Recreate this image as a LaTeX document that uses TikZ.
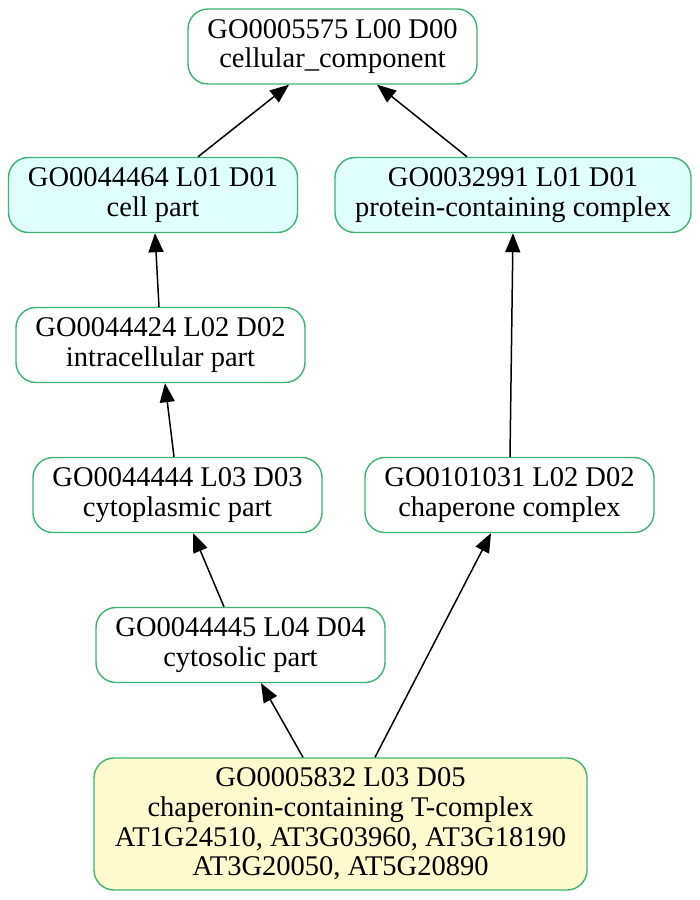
\documentclass[tikz,border=0pt]{standalone}
\usepackage{fontspec}
\setmainfont{Liberation Serif}
\usepackage{tikz}
\usetikzlibrary{arrows.meta,shapes,positioning}

\definecolor{goborder}{HTML}{3CB371}
\definecolor{gocyan}{HTML}{E0FFFF}
\definecolor{goyellow}{HTML}{FFFACD}

\begin{document}
\begin{tikzpicture}[
        x=1pt, y=-1pt,
        every node/.style={draw=goborder, line width=1.4pt, rounded corners=20pt, fill=white, align=center,
            inner sep=0pt, minimum width=289pt, minimum height=75pt,
            font=\fontsize{28.5}{29.7}\selectfont},
        root/.style={fill=gocyan},
        leaf/.style={fill=goyellow, minimum width=493pt, minimum height=132pt},
        edge/.style={line width=1.5pt, -{Triangle[length=19pt,width=15pt]}}
    ]
    \useasboundingbox (0,0) rectangle (700,900);

    % Nodes
    \node (cc) at (332.5,46.5) {GO0005575 L00 D00\\cellular\_component};
    \node (cellpart)[root] at (153,195) {GO0044464 L01 D01\\cell part};
    \node (protcomp)[root, minimum width=356pt] at (513,195) {GO0032991 L01 D01\\protein-containing complex};
    \node (intracell) at (160.5,345) {GO0044424 L02 D02\\intracellular part};
    \node (cytoplasm) at (177.5,495) {GO0044444 L03 D03\\cytoplasmic part};
    \node (chaperone) at (509.5,495) {GO0101031 L02 D02\\chaperone complex};
    \node (cytosol) at (240.5,645) {GO0044445 L04 D04\\cytosolic part};
    \node (cct)[leaf] at (340.5,824) {GO0005832 L03 D05\\chaperonin-containing T-complex\\
        AT1G24510, AT3G03960, AT3G18190\\AT3G20050, AT5G20890};

    % Edges
    \draw[edge] ([xshift=45pt]cellpart.north) -- ([xshift=-43.5pt]cc.south);
    \draw[edge] ([xshift=-46pt]protcomp.north) -- ([xshift=44.5pt]cc.south);
    \draw[edge] ([xshift=-1.5pt]intracell.north) -- ([xshift=2pt]cellpart.south);
    \draw[edge] ([xshift=0.5pt]chaperone.north) -- (protcomp.south);
    \draw[edge] ([xshift=-3.5pt]cytoplasm.north) -- ([xshift=4.5pt]intracell.south);
    \draw[edge] ([xshift=-16.5pt]cytosol.north) -- ([xshift=15.5pt]cytoplasm.south);
    \draw[edge] ([xshift=-37.5pt]cct.north) -- ([xshift=20.5pt]cytosol.south);
    \draw[edge] ([xshift=34.5pt]cct.north) -- ([xshift=-18.5pt]chaperone.south);

\end{tikzpicture}
\end{document}
